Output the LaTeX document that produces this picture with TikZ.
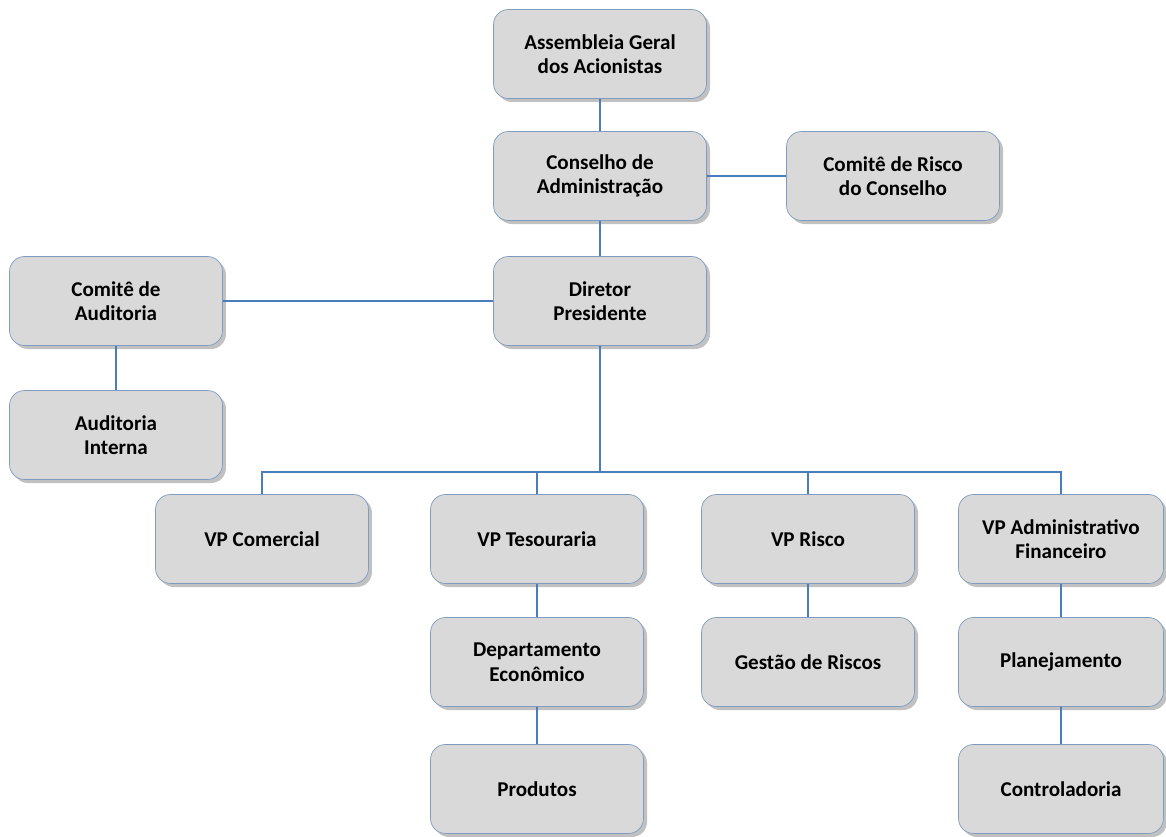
\documentclass[tikz,border=0pt]{standalone}
\usepackage{fontspec}
\setmainfont{Carlito}
\usetikzlibrary{shadows}
\definecolor{boxfill}{HTML}{D9D9D9}
\definecolor{boxline}{HTML}{7F9CC0}
\definecolor{linkblue}{HTML}{4A7EBB}
\tikzset{
  orgbox/.style={draw=boxline, fill=boxfill, rounded corners=0.3cm, align=center,
    minimum width=4.26cm, minimum height=1.78cm, inner sep=2pt,
    font=\fontsize{12}{14}\selectfont\bfseries,
    drop shadow={shadow xshift=2pt, shadow yshift=-2pt, opacity=0.35, fill=black!70}},
  narrowbox/.style={orgbox, minimum width=4.1cm},
  link/.style={draw=linkblue, line width=0.8pt}
}
\begin{document}
\begin{tikzpicture}[x=0.02cm,y=-0.02cm]
\useasboundingbox (0,0) rectangle (1166,837);


\node[orgbox] (assembleia) at (600,54) {Assembleia Geral\\dos Acionistas};
\node[orgbox] (conselho) at (600,176) {Conselho de\\Administração};
\node[orgbox] (comrisco) at (893,176) {Comitê de Risco\\do Conselho};
\node[orgbox] (diretor) at (600,301) {Diretor\\Presidente};

\node[orgbox] (comaud) at (116,301) {Comitê de\\Auditoria};
\node[orgbox] (audint) at (116,435) {Auditoria\\Interna};

\node[orgbox] (vpcom) at (262,539) {VP Comercial};
\node[orgbox] (vptes) at (537,539) {VP Tesouraria};
\node[orgbox] (vprisco) at (808,539) {VP Risco};
\node[narrowbox] (vpadm) at (1061,539) {VP Administrativo\\Financeiro};

\node[orgbox] (depecon) at (537,662) {Departamento\\Econômico};
\node[orgbox] (produtos) at (537,789) {Produtos};
\node[orgbox] (gestao) at (808,662) {Gestão de Riscos};
\node[narrowbox] (planej) at (1061,662) {Planejamento};
\node[narrowbox] (control) at (1061,789) {Controladoria};

\coordinate (bus) at (600,472);


\draw[link] (assembleia) -- (conselho);
\draw[link] (conselho) -- (comrisco);
\draw[link] (conselho) -- (diretor);
\draw[link] (diretor) -- (comaud);
\draw[link] (comaud) -- (audint);

\draw[link] (diretor) -- (bus);
\draw[link] (bus) -| (vpcom);
\draw[link] (bus) -| (vptes);
\draw[link] (bus) -| (vprisco);
\draw[link] (bus) -| (vpadm);

\draw[link] (vptes) -- (depecon);
\draw[link] (depecon) -- (produtos);
\draw[link] (vprisco) -- (gestao);
\draw[link] (vpadm) -- (planej);
\draw[link] (planej) -- (control);


\end{tikzpicture}
\end{document}
